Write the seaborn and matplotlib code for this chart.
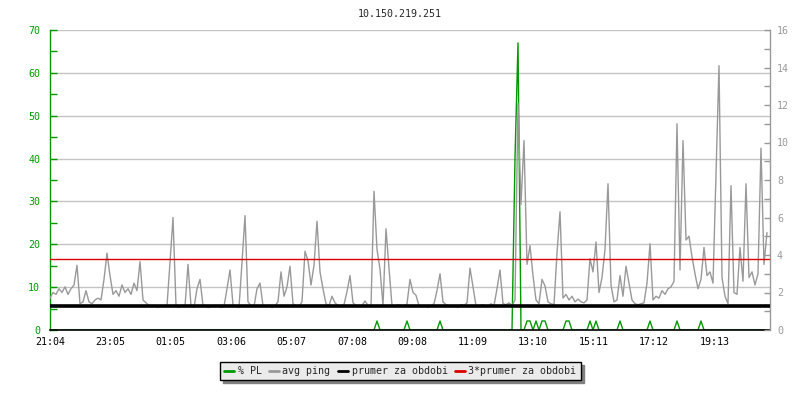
import seaborn as sns
import pandas as pd
import matplotlib.pyplot as plt
from matplotlib.ticker import MultipleLocator, FixedLocator
from matplotlib.lines import Line2D

# one sample every 6 minutes, starting 21:04 (24 h window)
minutes = list(range(0, 1440, 6))

# avg ping [ms] (right axis)
ping = [
    1.7, 2.0, 1.9, 2.2, 2.0, 2.3, 1.9, 2.2, 2.4, 3.45, 1.4, 1.5, 2.1, 1.5, 1.4, 1.6, 1.7, 1.6, 2.7, 4.1,
    2.9, 1.9, 2.1, 1.8, 2.4, 2.0, 2.2, 1.9, 2.5, 2.1, 3.65, 1.6, 1.45, 1.3, 1.25, 1.3, 1.2, 1.3, 1.25, 1.3,
    3.6, 6.0, 1.3, 1.2, 1.3, 1.25, 3.5, 1.3, 1.2, 2.2, 2.7, 1.3, 1.25, 1.2, 1.3, 1.25, 1.3, 1.2, 1.25, 2.2,
    3.2, 1.35, 1.25, 1.2, 3.6, 6.1, 1.5, 1.3, 1.25, 2.2, 2.5, 1.3, 1.25, 1.3, 1.2, 1.3, 1.5, 3.1, 1.8, 2.3,
    3.4, 1.4, 1.3, 1.25, 1.5, 4.2, 3.7, 2.4, 3.45, 5.8, 3.1, 2.2, 1.4, 1.3, 1.8, 1.45, 1.3, 1.25, 1.35, 2.05,
    2.9, 1.45, 1.3, 1.25, 1.3, 1.55, 1.3, 1.25, 7.4, 4.3, 3.25, 1.3, 5.4, 3.3, 1.3, 1.25, 1.35, 1.3, 1.25, 1.4,
    2.7, 2.0, 1.85, 1.3, 1.25, 1.3, 1.2, 1.3, 1.4, 2.1, 3.0, 1.5, 1.35, 1.3, 1.25, 1.3, 1.2, 1.35, 1.3, 1.45,
    3.3, 2.3, 1.3, 1.25, 1.35, 1.3, 1.25, 1.4, 1.3, 2.2, 3.2, 1.4, 1.35, 1.45, 1.3, 1.6, 12.1, 6.7, 10.1, 3.5,
    4.5, 2.9, 1.6, 1.4, 2.7, 2.35, 1.5, 1.4, 1.35, 4.1, 6.3, 1.7, 1.9, 1.6, 1.8, 1.5, 1.65, 1.5, 1.45, 1.6,
    3.8, 3.1, 4.7, 2.0, 2.8, 4.3, 7.8, 2.4, 1.5, 1.6, 2.9, 1.8, 3.4, 2.5, 1.6, 1.4, 1.35, 1.4, 1.45, 2.5,
    4.6, 1.6, 1.8, 1.7, 2.1, 1.9, 2.2, 2.3, 2.6, 11.0, 3.2, 10.1, 4.8, 5.0, 3.9, 3.0, 2.2, 2.7, 4.4, 2.9,
    3.1, 2.5, 8.2, 14.1, 2.8, 1.8, 1.4, 7.7, 2.0, 1.9, 4.4, 2.6, 7.8, 2.8, 3.1, 2.4, 3.0, 9.7, 3.5, 5.2,
]

# packet loss [%] (left axis)
pl = [
    0, 0, 0, 0, 0, 0, 0, 0, 0, 0, 0, 0, 0, 0, 0, 0, 0, 0, 0, 0,
    0, 0, 0, 0, 0, 0, 0, 0, 0, 0, 0, 0, 0, 0, 0, 0, 0, 0, 0, 0,
    0, 0, 0, 0, 0, 0, 0, 0, 0, 0, 0, 0, 0, 0, 0, 0, 0, 0, 0, 0,
    0, 0, 0, 0, 0, 0, 0, 0, 0, 0, 0, 0, 0, 0, 0, 0, 0, 0, 0, 0,
    0, 0, 0, 0, 0, 0, 0, 0, 0, 0, 0, 0, 0, 0, 0, 0, 0, 0, 0, 0,
    0, 0, 0, 0, 0, 0, 0, 0, 0, 2.1, 0, 0, 0, 0, 0, 0, 0, 0, 0, 2.1,
    0, 0, 0, 0, 0, 0, 0, 0, 0, 0, 2.1, 0, 0, 0, 0, 0, 0, 0, 0, 0,
    0, 0, 0, 0, 0, 0, 0, 0, 0, 0, 0, 0, 0, 0, 0, 40, 67, 0, 0, 2.1,
    2.1, 0, 2.1, 0, 2.1, 2.1, 0, 0, 0, 0, 0, 0, 2.1, 2.1, 0, 0, 0, 0, 0, 0,
    2.1, 0, 2.1, 0, 0, 0, 0, 0, 0, 0, 2.1, 0, 0, 0, 0, 0, 0, 0, 0, 0,
    2.1, 0, 0, 0, 0, 0, 0, 0, 0, 2.1, 0, 0, 0, 0, 0, 0, 0, 2.1, 0, 0,
    0, 0, 0, 0, 0, 0, 0, 0, 0, 0, 0, 0, 0, 0, 0, 0, 0, 0, 0, 0,
]

ping_mean = 1.27  # prumer za obdobi [ms]

tick_minutes = [0, 121, 241, 362, 483, 604, 724, 845, 966, 1087, 1208, 1329]
tick_labels = ['21:04', '23:05', '01:05', '03:06', '05:07', '07:08',
               '09:08', '11:09', '13:10', '15:11', '17:12', '19:13']

df = pd.DataFrame({'t': minutes, 'ping': ping, 'pl': pl})

sns.set_style('white')
plt.rcParams['font.family'] = ['DejaVu Sans Mono']
plt.rcParams['font.size'] = 7.2

GREEN = '#009900'
GRAY = '#999999'
RED = '#dd0000'

fig = plt.figure(figsize=(8, 4), dpi=100)
ax = fig.add_axes([50 / 800, 70 / 400, 720 / 800, 300 / 400])
ax2 = ax.twinx()

sns.lineplot(data=df, x='t', y='pl', ax=ax, color=GREEN, lw=1,
             estimator=None, legend=False)
sns.lineplot(data=df, x='t', y='ping', ax=ax2, color=GRAY, lw=1,
             estimator=None, legend=False)
ax2.axhline(ping_mean, color='black', lw=2.6, zorder=5)
ax2.axhline(3 * ping_mean, color=RED, lw=1, zorder=5)

ax.set_xlim(0, 1440)
ax.set_ylim(0, 70)
ax2.set_ylim(0, 16)

ax.xaxis.set_major_locator(FixedLocator(tick_minutes))
ax.set_xticklabels(tick_labels)
ax.yaxis.set_major_locator(MultipleLocator(10))
ax.yaxis.set_minor_locator(MultipleLocator(5))
ax2.yaxis.set_major_locator(MultipleLocator(2))
ax2.yaxis.set_minor_locator(MultipleLocator(1))

ax.grid(axis='y', which='major', color='#c4c4c4', lw=1)
ax.set_axisbelow(True)

ax.tick_params(axis='x', direction='in', length=5, width=1, color='black',
               labelcolor='black', pad=5, labelsize=7.2)
ax.tick_params(axis='y', which='both', direction='in', length=5, width=1,
               color=GREEN, labelcolor=GREEN, pad=7, labelsize=7.2)
ax2.tick_params(axis='y', which='both', direction='in', length=4, width=1,
                color=GRAY, labelcolor=GRAY, pad=5, labelsize=7.2)

for s in ['top', 'right']:
    ax.spines[s].set_visible(False)
for s in ['top', 'left', 'bottom']:
    ax2.spines[s].set_visible(False)
ax.spines['left'].set_color(GREEN)
ax.spines['left'].set_linewidth(1)
ax.spines['bottom'].set_color('black')
ax.spines['bottom'].set_linewidth(1.2)
ax2.spines['right'].set_color(GRAY)
ax2.spines['right'].set_linewidth(1)

ax.set_xlabel('')
ax.set_ylabel('')
ax2.set_ylabel('')

fig.text(0.5, 1 - 14 / 400, '10.150.219.251', ha='center', va='center', fontsize=7.2)

handles = [Line2D([], [], color=GREEN, lw=2),
           Line2D([], [], color=GRAY, lw=2),
           Line2D([], [], color='black', lw=2),
           Line2D([], [], color=RED, lw=2)]
labels = ['% PL', 'avg ping', 'prumer za obdobi', '3*prumer za obdobi']
fig.legend(handles, labels, loc='center', bbox_to_anchor=(0.5, 1 - 371 / 400),
           ncol=4, frameon=True, fancybox=False,
           shadow={'ox': 2.5, 'oy': -2.5, 'color': '#808080', 'alpha': 1},
           facecolor='#ebebeb', edgecolor='black', framealpha=1,
           handlelength=1.0, handletextpad=0.4, columnspacing=0.7,
           borderpad=0.4, fontsize=7.2)
fig.legends[0].get_frame().set_linewidth(1)

fig.savefig('out.png', dpi=100)
